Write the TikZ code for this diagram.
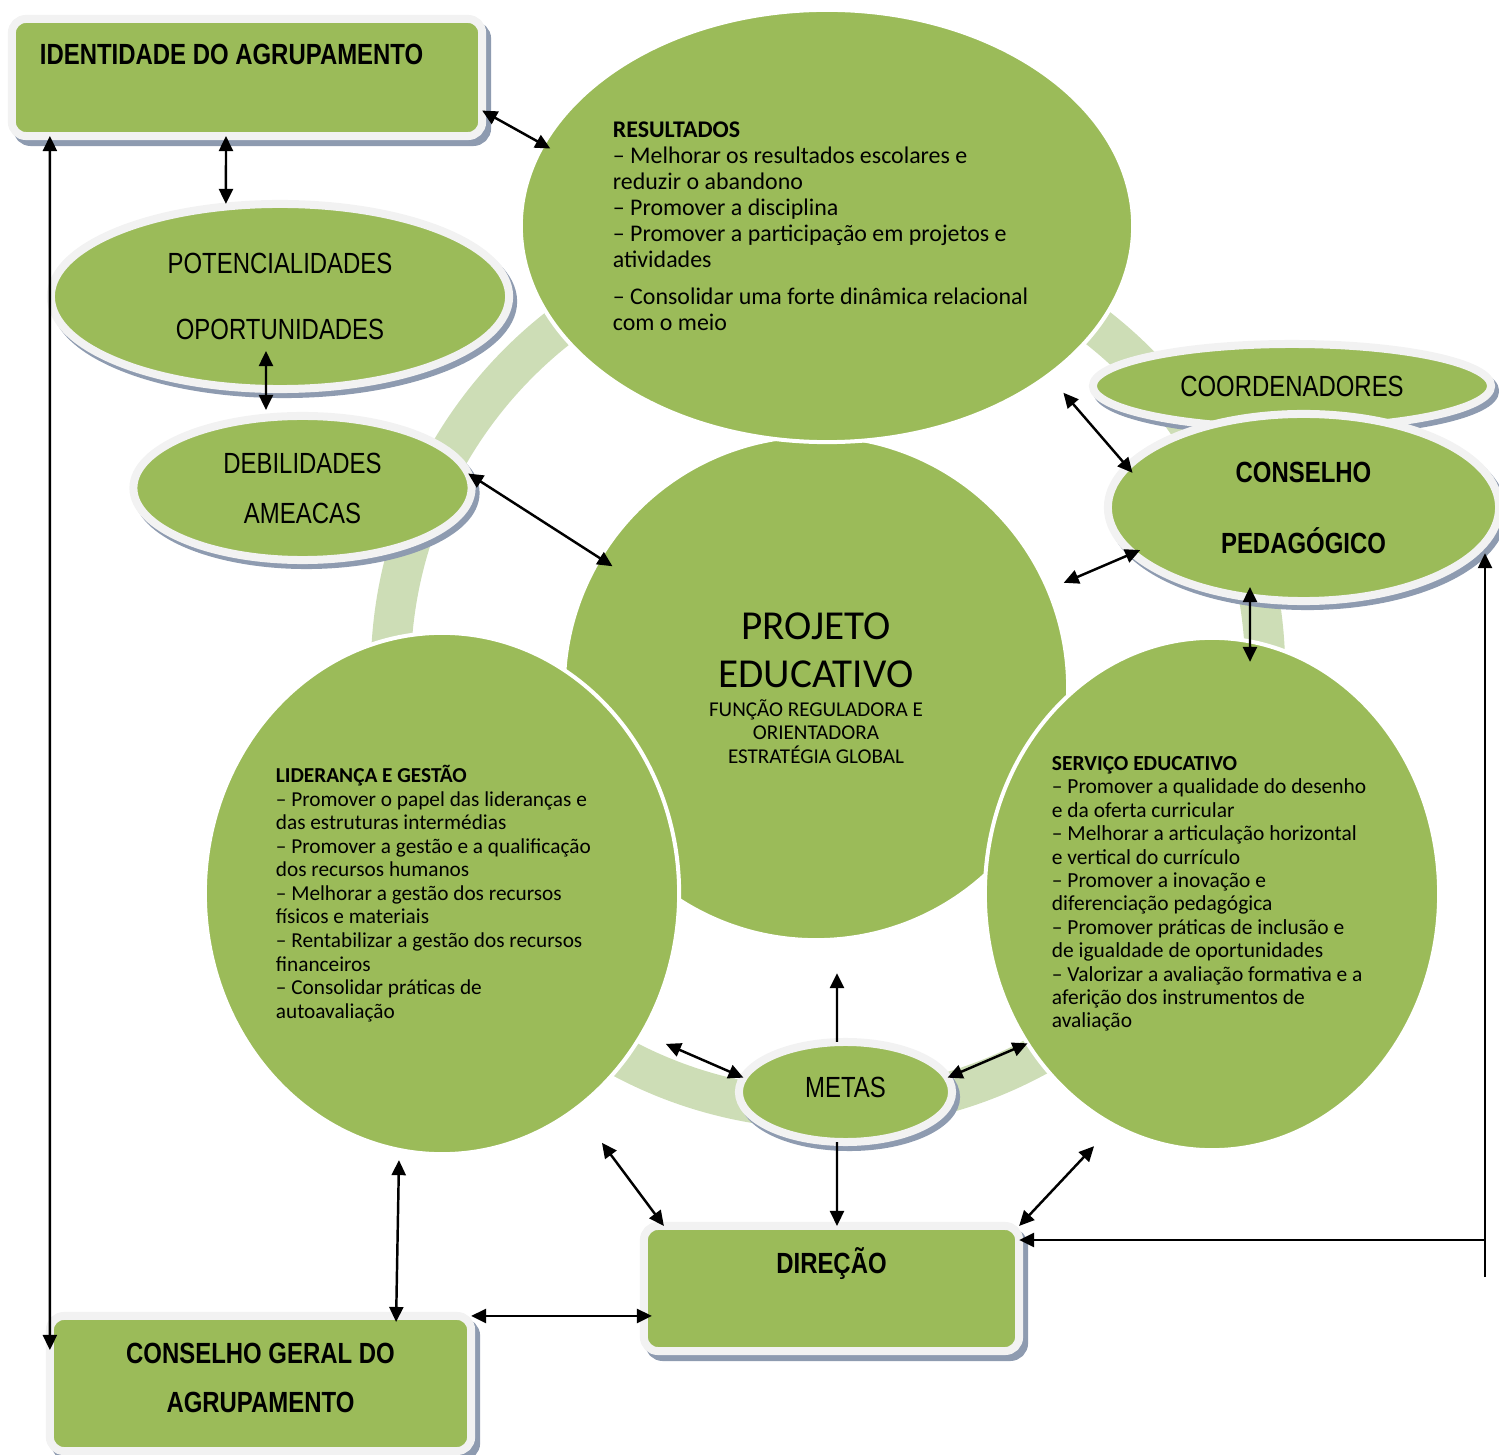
\documentclass[tikz,border=0pt]{standalone}
\usepackage{fontspec}
\setmainfont{Carlito}
\newfontfamily\hdfont[FakeStretch=0.82]{Liberation Sans}
\usepackage{tikz}
\usetikzlibrary{shapes.geometric, arrows.meta, positioning, calc}
\setlength{\parindent}{0pt}
\definecolor{cLeaf}{RGB}{155,187,89}
\definecolor{cRing}{RGB}{205,221,182}
\definecolor{cRim}{RGB}{242,242,242}
\definecolor{cShade}{RGB}{142,155,176}
\tikzset{
	gbox/.style  ={rectangle, rounded corners=0.14cm, fill=cLeaf, draw=cRim, line width=0.08cm, inner sep=0pt, outer sep=0pt,
	               font=\hdfont\bfseries\fontsize{8.3}{10}\selectfont,
	               preaction={draw=cShade, fill=cShade, line width=0.08cm, transform canvas={shift={(0.05cm,-0.06cm)}}}},
	goval/.style ={ellipse, fill=cLeaf, draw=cRim, line width=0.08cm, inner sep=0pt, outer sep=0pt, align=center,
	               font=\hdfont\fontsize{8.3}{10}\selectfont,
	               preaction={draw=cShade, fill=cShade, line width=0.08cm, transform canvas={shift={(0.04cm,-0.05cm)}}}},
	gzone/.style ={ellipse, fill=cLeaf, draw=white, line width=0.04cm, inner sep=0pt, outer sep=0pt, align=flush left},
	oneway/.style={-{Triangle[length=1.5mm, width=1.4mm]}, line width=0.7pt},
	twoway/.style={{Triangle[length=1.5mm, width=1.4mm]}-{Triangle[length=1.5mm, width=1.4mm]}, line width=0.7pt},
}
\begin{document}
\begin{tikzpicture}[x=0.01cm, y=-0.01cm]
	\useasboundingbox (0,0) rectangle (1499,1455);
	% ring behind everything
	\draw[cRing, line width=0.4cm] (828,672) circle[radius=4.37cm];
	% central block and the three domains
	\node[gzone, align=flush center, minimum size=5.04cm, text width=3.4cm] (proj) at (816,688)
		{{\fontsize{11.7}{13.7}\selectfont PROJETO\\EDUCATIVO\par}\vspace{1.6pt}%
		 {\fontsize{6}{6.7}\selectfont FUNÇÃO REGULADORA E\\ORIENTADORA\\ESTRATÉGIA GLOBAL\par}};
	\node[gzone, minimum width=6.12cm, minimum height=4.32cm, text width=4.28cm, font=\fontsize{6.8}{7.4}\selectfont] (res) at (827,226)
		{\textbf{RESULTADOS}\\
		 – Melhorar os resultados escolares e\\
		 reduzir o abandono\\
		 – Promover a disciplina\\
		 – Promover a participação em projetos e\\
		 atividades\\[3.1pt]
		 – Consolidar uma forte dinâmica relacional\\
		 com o meio};
	\node[gzone, minimum width=4.74cm, minimum height=5.21cm, text width=3.32cm, font=\fontsize{6.05}{6.7}\selectfont] (lid) at (442,893.5)
		{\textbf{LIDERANÇA E GESTÃO}\\
		 – Promover o papel das lideranças e\\
		 das estruturas intermédias\\
		 – Promover a gestão e a qualificação\\
		 dos recursos humanos\\
		 – Melhorar a gestão dos recursos\\
		 físicos e materiais\\
		 – Rentabilizar a gestão dos recursos\\
		 financeiros\\
		 – Consolidar práticas de\\
		 autoavaliação};
	\node[gzone, minimum width=4.54cm, minimum height=5.12cm, text width=3.2cm, font=\fontsize{6.1}{6.65}\selectfont] (serv) at (1212,894)
		{\textbf{SERVIÇO EDUCATIVO}\\
		 – Promover a qualidade do desenho\\
		 e da oferta curricular\\
		 – Melhorar a articulação horizontal\\
		 e vertical do currículo\\
		 – Promover a inovação e\\
		 diferenciação pedagógica\\
		 – Promover práticas de inclusão e\\
		 de igualdade de oportunidades\\
		 – Valorizar a avaliação formativa e a\\
		 aferição dos instrumentos de\\
		 avaliação};
	% ovals
	\node[goval, minimum width=4.58cm, minimum height=1.85cm] (pot) at (280,296.5) {POTENCIALIDADES\\[8.8pt]OPORTUNIDADES};
	\node[goval, minimum width=3.38cm, minimum height=1.44cm] (deb) at (302.5,488) {DEBILIDADES\\[4.2pt]AMEACAS};
	\node[goval, minimum width=3.98cm, minimum height=0.84cm] (coord) at (1292,386) {COORDENADORES};
	\node[goval, minimum width=3.91cm, minimum height=1.87cm, font=\hdfont\bfseries\fontsize{8.3}{10}\selectfont] (cped) at (1303.5,507.5) {CONSELHO\\[10.2pt]PEDAGÓGICO};
	\node[goval, minimum width=2.13cm, minimum height=1.00cm] (metas) at (845.5,1092) {\raisebox{0.1cm}{METAS}};
	% boxes
	\node[gbox, minimum width=4.70cm, minimum height=1.17cm, text width=4.14cm, inner xsep=0.28cm, text height=0.46cm, text depth=0.71cm, align=flush left] (ident) at (247,77.5) {IDENTIDADE DO AGRUPAMENTO};
	\node[gbox, minimum width=3.75cm, minimum height=1.25cm, text height=0.475cm, text depth=0.775cm] (dir) at (831.5,1288.5) {DIREÇÃO};
	\node[gbox, minimum width=4.21cm, minimum height=1.35cm, align=center, text height=0.965cm, text depth=0.385cm] (cgeral) at (260.5,1383.5) {CONSELHO GERAL DO\\[3.9pt]AGRUPAMENTO};
	\coordinate (rbot) at (1485,1277);
	\coordinate (rjoin) at (1485,1240);
	% connectors
	\draw[twoway, shorten >=-0.08cm] (ident.-8) -- (res.164);
	\draw[twoway] ([xshift=-0.21cm]ident.south) -- ([xshift=-0.54cm]pot.north);
	\draw[twoway] ([xshift=-0.14cm, yshift=0.38cm]pot.south) -- ([xshift=-0.365cm, yshift=0.06cm]deb.north);
	\draw[twoway, shorten >=-0.15cm] (deb.5) -- (proj.149);
	\draw[twoway] ([xshift=0.38cm]ident.south west) -- ([yshift=-0.34cm]cgeral.north west);
	\draw[twoway, shorten <=0.23cm, shorten >=-0.08cm] (res.-34) -- (cped.167);
	\draw[twoway, shorten <=0.17cm, shorten >=-0.08cm] (proj.23) -- (cped.195);
	\draw[twoway] ([xshift=-0.535cm, yshift=0.14cm]cped.south) -- ([xshift=0.38cm, yshift=-0.24cm]serv.north);
	\draw[oneway] (rbot) -- (rbot |- cped.-15);
	\draw[oneway] (rjoin) -- (rjoin -| dir.east);
	\draw[oneway] ([xshift=-0.085cm]metas.north) -- ([xshift=0.21cm, yshift=-0.33cm]proj.south);
	\draw[oneway] ([xshift=-0.085cm]metas.south) -- ([xshift=0.055cm]dir.north);
	\draw[twoway, shorten <=0.26cm] (lid.-35) -- (metas.172);
	\draw[twoway] (metas.8) -- (serv.219);
	\draw[twoway, shorten <=0.43cm] (lid.-58) -- ([xshift=0.2cm]dir.north west);
	\draw[twoway, shorten <=0.29cm] (serv.247) -- (dir.north east);
	\draw[twoway] ([xshift=-0.43cm, yshift=-0.06cm]lid.south) -- ([xshift=-0.75cm, yshift=-0.06cm]cgeral.north east);
	\draw[twoway, shorten >=-0.08cm] (cgeral.north east) -- (cgeral.north east -| dir.west);
\end{tikzpicture}
\end{document}
